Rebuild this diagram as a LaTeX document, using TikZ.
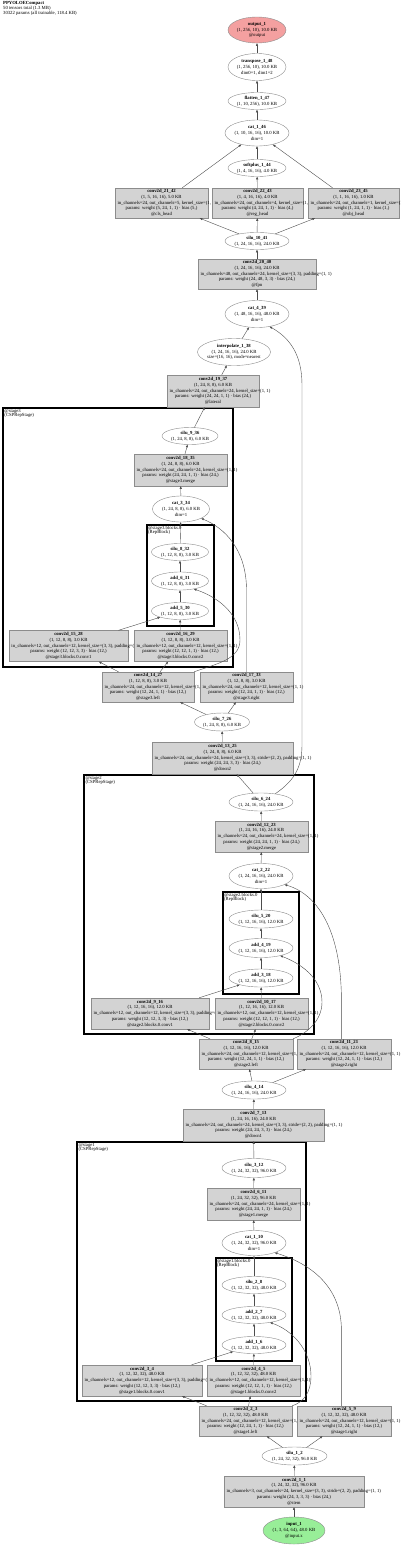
\documentclass[tikz,border=0pt]{standalone}
\usepackage{fontspec}
\setmainfont{Liberation Serif}
\usetikzlibrary{shapes.geometric,arrows.meta}
\definecolor{boxgray}{HTML}{D3D3D3}
\definecolor{outred}{HTML}{F4A0A0}
\definecolor{ingreen}{HTML}{98EE98}
\newcommand{\fs}{\fontsize{4.7}{5.8}\selectfont}
\newcommand{\fl}{\fontsize{4.7}{4.6}\selectfont}
\newcommand{\Z}[1]{\makebox[0pt]{#1}}
\newcommand{\BL}[2]{\hbox to #1pt{\hskip 2.5pt plus 1fil\relax #2\hskip 0pt plus 1fil minus 1fil\hskip 2.5pt\relax}}
\newcommand{\OP}[9]{\node[op, minimum height=#4pt] (#1) at #2 {\BL{#3}{\textbf{#5}}\\\BL{#3}{#6}\\\BL{#3}{#7}\\\BL{#3}{#8}\\\BL{#3}{#9}};}
\newcommand{\EL}[6]{\node[el, fill=#5, minimum width=#3pt, minimum height=#4pt] (#1) at #2 {#6};}
\tikzset{
  op/.style={draw=black!45, fill=boxgray, rectangle, inner xsep=0pt, inner ysep=1pt, align=center, font=\fs, line width=0.4pt},
  el/.style={draw=black!45, ellipse, inner sep=0pt, align=center, font=\fs, line width=0.4pt},
  edge/.style={draw=black!70, line width=0.4pt, -{Triangle[length=2.6pt,width=2.1pt]}},
  stagecl/.style={draw=black, line width=1.4pt, rectangle, inner sep=0pt},
  blockcl/.style={draw=black, line width=1.1pt, rectangle, inner sep=0pt},
  lab/.style={anchor=north west, inner sep=0pt, align=left, font=\fl}
}
\begin{document}
\begin{tikzpicture}[x=1pt, y=-1pt]
\useasboundingbox (0,0) rectangle (400,1547);
\node[lab] (hdr) at (3,1.5) {\textbf{PPYOLOECompact}\\50 tensors total (1.3 MB)\\30322 params (all trainable, 118.4 KB)};

% clusters
\node[stagecl, minimum width=230pt, minimum height=259pt] (stage3) at (118,537.5) {};
\node[lab] (stage3lab) at ([xshift=2pt,yshift=-1.5pt]stage3.north west) {@stage3\\(CSPRepStage)};
\node[blockcl, minimum width=67pt, minimum height=101pt] (blocks3) at (180.5,575.5) {};
\node[lab] (blocks3lab) at ([xshift=1.5pt,yshift=-1.2pt]blocks3.north west) {@stage3.blocks.0\\(RepBlock)};
\node[stagecl, minimum width=230pt, minimum height=259pt] (stage2) at (199,904.5) {};
\node[lab] (stage2lab) at ([xshift=2pt,yshift=-1.5pt]stage2.north west) {@stage2\\(CSPRepStage)};
\node[blockcl, minimum width=76pt, minimum height=102pt] (blocks2) at (261,943) {};
\node[lab] (blocks2lab) at ([xshift=1.5pt,yshift=-1.2pt]blocks2.north west) {@stage2.blocks.0\\(RepBlock)};
\node[stagecl, minimum width=229pt, minimum height=259pt] (stage1) at (191.5,1271.5) {};
\node[lab] (stage1lab) at ([xshift=2pt,yshift=-1.5pt]stage1.north west) {@stage1\\(CSPRepStage)};
\node[blockcl, minimum width=76pt, minimum height=103pt] (blocks1) at (254,1309.5) {};
\node[lab] (blocks1lab) at ([xshift=1.5pt,yshift=-1.2pt]blocks1.north west) {@stage1.blocks.0\\(RepBlock)};

% head
\EL{out1}{(257,30)}{58}{26}{outred}{\Z{\textbf{output\_1}}\\\Z{(1, 256, 10), 10.0 KB}\\\Z{@output}}
\EL{tr48}{(257,67)}{58}{27}{white}{\Z{\textbf{transpose\_1\_48}}\\\Z{(1, 256, 10), 10.0 KB}\\\Z{dim0=1, dim1=2}}
\EL{fl47}{(257,101)}{58}{17}{white}{\Z{\textbf{flatten\_1\_47}}\\\Z{(1, 10, 256), 10.0 KB}}
\EL{cat46}{(257,133)}{64}{26}{white}{\Z{\textbf{cat\_1\_46}}\\\Z{(1, 10, 16, 16), 10.0 KB}\\\Z{dim=1}}
\EL{sp44}{(257,168)}{58}{17}{white}{\Z{\textbf{softplus\_1\_44}}\\\Z{(1, 4, 16, 16), 4.0 KB}}
\OP{c2142}{(161.5,203)}{93}{30}{conv2d\_21\_42}{(1, 5, 16, 16), 5.0 KB}{in\_channels=24, out\_channels=5, kernel\_size=(1, 1)}{params: weight (5, 24, 1, 1) · bias (5,)}{@cls\_head}
\OP{c2243}{(257.5,203)}{91}{30}{conv2d\_22\_43}{(1, 4, 16, 16), 4.0 KB}{in\_channels=24, out\_channels=4, kernel\_size=(1, 1)}{params: weight (4, 24, 1, 1) · bias (4,)}{@reg\_head}
\OP{c2345}{(353.5,203)}{91}{30}{conv2d\_23\_45}{(1, 1, 16, 16), 1.0 KB}{in\_channels=24, out\_channels=1, kernel\_size=(1, 1)}{params: weight (1, 24, 1, 1) · bias (1,)}{@obj\_head}
\EL{si41}{(257,241)}{64}{17}{white}{\Z{\textbf{silu\_10\_41}}\\\Z{(1, 24, 16, 16), 24.0 KB}}
\OP{c2040}{(257,274)}{118}{30}{conv2d\_20\_40}{(1, 24, 16, 16), 24.0 KB}{in\_channels=48, out\_channels=24, kernel\_size=(3, 3), padding=(1, 1)}{params: weight (24, 48, 3, 3) · bias (24,)}{@fpn}
\EL{cat39}{(257,314)}{64}{27}{white}{\Z{\textbf{cat\_4\_39}}\\\Z{(1, 48, 16, 16), 48.0 KB}\\\Z{dim=1}}
\EL{in38}{(234,352)}{73}{27}{white}{\Z{\textbf{interpolate\_1\_38}}\\\Z{(1, 24, 16, 16), 24.0 KB}\\\Z{size=(16, 16), mode=nearest}}
\OP{c1937}{(213,391)}{92}{32}{conv2d\_19\_37}{(1, 24, 8, 8), 6.0 KB}{in\_channels=24, out\_channels=24, kernel\_size=(1, 1)}{params: weight (24, 24, 1, 1) · bias (24,)}{@lateral}

% stage3
\EL{si36}{(190,436)}{56}{17}{white}{\Z{\textbf{silu\_9\_36}}\\\Z{(1, 24, 8, 8), 6.0 KB}}
\OP{c1835}{(180.5,470)}{93}{32}{conv2d\_18\_35}{(1, 24, 8, 8), 6.0 KB}{in\_channels=24, out\_channels=24, kernel\_size=(1, 1)}{params: weight (24, 24, 1, 1) · bias (24,)}{@stage3.merge}
\EL{cat34}{(181,509)}{57}{26}{white}{\Z{\textbf{cat\_3\_34}}\\\Z{(1, 24, 8, 8), 6.0 KB}\\\Z{dim=1}}
\EL{si32}{(180,552)}{57}{17}{white}{\Z{\textbf{silu\_8\_32}}\\\Z{(1, 12, 8, 8), 3.0 KB}}
\EL{ad31}{(180,581)}{57}{18}{white}{\Z{\textbf{add\_6\_31}}\\\Z{(1, 12, 8, 8), 3.0 KB}}
\EL{ad30}{(180,611)}{57}{17}{white}{\Z{\textbf{add\_5\_30}}\\\Z{(1, 12, 8, 8), 3.0 KB}}
\OP{c1528}{(68.5,646)}{119}{31}{conv2d\_15\_28}{(1, 12, 8, 8), 3.0 KB}{in\_channels=12, out\_channels=12, kernel\_size=(3, 3), padding=(1, 1)}{params: weight (12, 12, 3, 3) · bias (12,)}{@stage3.blocks.0.conv1}
\OP{c1629}{(180.5,646)}{93}{31}{conv2d\_16\_29}{(1, 12, 8, 8), 3.0 KB}{in\_channels=12, out\_channels=12, kernel\_size=(1, 1)}{params: weight (12, 12, 1, 1) · bias (12,)}{@stage3.blocks.0.conv2}
\OP{c1427}{(148,687)}{92}{30}{conv2d\_14\_27}{(1, 12, 8, 8), 3.0 KB}{in\_channels=24, out\_channels=12, kernel\_size=(1, 1)}{params: weight (12, 24, 1, 1) · bias (12,)}{@stage3.left}
\OP{c1733}{(246.5,687)}{93}{30}{conv2d\_17\_33}{(1, 12, 8, 8), 3.0 KB}{in\_channels=24, out\_channels=12, kernel\_size=(1, 1)}{params: weight (12, 24, 1, 1) · bias (12,)}{@stage3.right}
\EL{si26}{(222,722)}{55}{18}{white}{\Z{\textbf{silu\_7\_26}}\\\Z{(1, 24, 8, 8), 6.0 KB}}
\OP{c1325}{(222.5,758)}{141}{32}{conv2d\_13\_25}{(1, 24, 8, 8), 6.0 KB}{in\_channels=24, out\_channels=24, kernel\_size=(3, 3), stride=(2, 2), padding=(1, 1)}{params: weight (24, 24, 3, 3) · bias (24,)}{@down2}

% stage2
\EL{si24}{(261,802)}{64}{18}{white}{\Z{\textbf{silu\_6\_24}}\\\Z{(1, 24, 16, 16), 24.0 KB}}
\OP{c1223}{(261.5,836.5)}{93}{31}{conv2d\_12\_23}{(1, 24, 16, 16), 24.0 KB}{in\_channels=24, out\_channels=24, kernel\_size=(1, 1)}{params: weight (24, 24, 1, 1) · bias (24,)}{@stage2.merge}
\EL{cat22}{(261,876)}{64}{25}{white}{\Z{\textbf{cat\_2\_22}}\\\Z{(1, 24, 16, 16), 24.0 KB}\\\Z{dim=1}}
\EL{si20}{(261,919)}{64}{18}{white}{\Z{\textbf{silu\_5\_20}}\\\Z{(1, 12, 16, 16), 12.0 KB}}
\EL{ad19}{(261,948)}{64}{19}{white}{\Z{\textbf{add\_4\_19}}\\\Z{(1, 12, 16, 16), 12.0 KB}}
\EL{ad18}{(261,978)}{64}{18}{white}{\Z{\textbf{add\_3\_18}}\\\Z{(1, 12, 16, 16), 12.0 KB}}
\OP{c916}{(150,1013.5)}{118}{31}{conv2d\_9\_16}{(1, 12, 16, 16), 12.0 KB}{in\_channels=12, out\_channels=12, kernel\_size=(3, 3), padding=(1, 1)}{params: weight (12, 12, 3, 3) · bias (12,)}{@stage2.blocks.0.conv1}
\OP{c1017}{(261.5,1013.5)}{93}{31}{conv2d\_10\_17}{(1, 12, 16, 16), 12.0 KB}{in\_channels=12, out\_channels=12, kernel\_size=(1, 1)}{params: weight (12, 12, 1, 1) · bias (12,)}{@stage2.blocks.0.conv2}
\OP{c815}{(246,1054)}{94}{30}{conv2d\_8\_15}{(1, 12, 16, 16), 12.0 KB}{in\_channels=24, out\_channels=12, kernel\_size=(1, 1)}{params: weight (12, 24, 1, 1) · bias (12,)}{@stage2.left}
\OP{c1121}{(344,1054)}{94}{30}{conv2d\_11\_21}{(1, 12, 16, 16), 12.0 KB}{in\_channels=24, out\_channels=12, kernel\_size=(1, 1)}{params: weight (12, 24, 1, 1) · bias (12,)}{@stage2.right}
\EL{si14}{(254,1090)}{64}{18}{white}{\Z{\textbf{silu\_4\_14}}\\\Z{(1, 24, 16, 16), 24.0 KB}}
\OP{c713}{(253.5,1125)}{141}{32}{conv2d\_7\_13}{(1, 24, 16, 16), 24.0 KB}{in\_channels=24, out\_channels=24, kernel\_size=(3, 3), stride=(2, 2), padding=(1, 1)}{params: weight (24, 24, 3, 3) · bias (24,)}{@down1}

% stage1
\EL{si12}{(254,1168)}{64}{19}{white}{\Z{\textbf{silu\_3\_12}}\\\Z{(1, 24, 32, 32), 96.0 KB}}
\OP{c611}{(253.5,1204)}{93}{32}{conv2d\_6\_11}{(1, 24, 32, 32), 96.0 KB}{in\_channels=24, out\_channels=24, kernel\_size=(1, 1)}{params: weight (24, 24, 1, 1) · bias (24,)}{@stage1.merge}
\EL{cat10}{(254,1243)}{64}{25}{white}{\Z{\textbf{cat\_1\_10}}\\\Z{(1, 24, 32, 32), 96.0 KB}\\\Z{dim=1}}
\EL{si8}{(254,1285)}{64}{17}{white}{\Z{\textbf{silu\_2\_8}}\\\Z{(1, 12, 32, 32), 48.0 KB}}
\EL{ad7}{(254,1315)}{64}{17}{white}{\Z{\textbf{add\_2\_7}}\\\Z{(1, 12, 32, 32), 48.0 KB}}
\EL{ad6}{(254,1345)}{64}{17}{white}{\Z{\textbf{add\_1\_6}}\\\Z{(1, 12, 32, 32), 48.0 KB}}
\OP{c34}{(142,1380.5)}{120}{31}{conv2d\_3\_4}{(1, 12, 32, 32), 48.0 KB}{in\_channels=12, out\_channels=12, kernel\_size=(3, 3), padding=(1, 1)}{params: weight (12, 12, 3, 3) · bias (12,)}{@stage1.blocks.0.conv1}
\OP{c45}{(253.5,1380.5)}{93}{31}{conv2d\_4\_5}{(1, 12, 32, 32), 48.0 KB}{in\_channels=12, out\_channels=12, kernel\_size=(1, 1)}{params: weight (12, 12, 1, 1) · bias (12,)}{@stage1.blocks.0.conv2}
\OP{c23}{(245.5,1421)}{93}{30}{conv2d\_2\_3}{(1, 12, 32, 32), 48.0 KB}{in\_channels=24, out\_channels=12, kernel\_size=(1, 1)}{params: weight (12, 24, 1, 1) · bias (12,)}{@stage1.left}
\OP{c59}{(344,1421)}{94}{30}{conv2d\_5\_9}{(1, 12, 32, 32), 48.0 KB}{in\_channels=24, out\_channels=12, kernel\_size=(1, 1)}{params: weight (12, 24, 1, 1) · bias (12,)}{@stage1.right}
\EL{si2}{(294.5,1456)}{65}{18}{white}{\Z{\textbf{silu\_1\_2}}\\\Z{(1, 24, 32, 32), 96.0 KB}}
\OP{c11}{(294,1491.5)}{140}{31}{conv2d\_1\_1}{(1, 24, 32, 32), 96.0 KB}{in\_channels=3, out\_channels=24, kernel\_size=(3, 3), stride=(2, 2), padding=(1, 1)}{params: weight (24, 3, 3, 3) · bias (24,)}{@stem}
\EL{in1}{(294,1530.5)}{62}{27}{ingreen}{\Z{\textbf{input\_1}}\\\Z{(1, 3, 64, 64), 48.0 KB}\\\Z{@input.x}}

% straight edges
\draw[edge] (in1) -- (c11);
\draw[edge] (c11) -- (si2);
\draw[edge] (si2) -- (c23);
\draw[edge] (si2) -- (c59);
\draw[edge] (c23) -- (c34);
\draw[edge] (c23) -- (c45);
\draw[edge] (c34) -- (ad6);
\draw[edge] (c45) -- (ad6);
\draw[edge] (ad6) -- (ad7);
\draw[edge] (ad7) -- (si8);
\draw[edge] (si8) -- (cat10);
\draw[edge] (cat10) -- (c611);
\draw[edge] (c611) -- (si12);
\draw[edge] (si12) -- (c713);
\draw[edge] (c713) -- (si14);
\draw[edge] (si14) -- (c815);
\draw[edge] (si14) -- (c1121);
\draw[edge] (c815) -- (c916);
\draw[edge] (c815) -- (c1017);
\draw[edge] (c916) -- (ad18);
\draw[edge] (c1017) -- (ad18);
\draw[edge] (ad18) -- (ad19);
\draw[edge] (ad19) -- (si20);
\draw[edge] (si20) -- (cat22);
\draw[edge] (cat22) -- (c1223);
\draw[edge] (c1223) -- (si24);
\draw[edge] (si24) -- (c1325);
\draw[edge] (c1325) -- (si26);
\draw[edge] (si26) -- (c1427);
\draw[edge] (si26) -- (c1733);
\draw[edge] (c1427) -- (c1528);
\draw[edge] (c1427) -- (c1629);
\draw[edge] (c1528) -- (ad30);
\draw[edge] (c1629) -- (ad30);
\draw[edge] (ad30) -- (ad31);
\draw[edge] (ad31) -- (si32);
\draw[edge] (si32) -- (cat34);
\draw[edge] (cat34) -- (c1835);
\draw[edge] (c1835) -- (si36);
\draw[edge] (si36) -- (c1937);
\draw[edge] (c1937) -- (in38);
\draw[edge] (in38) -- (cat39);
\draw[edge] (cat39) -- (c2040);
\draw[edge] (c2040) -- (si41);
\draw[edge] (si41) -- (c2142);
\draw[edge] (si41) -- (c2243);
\draw[edge] (si41) -- (c2345);
\draw[edge] (c2142) -- (cat46);
\draw[edge] (c2243) -- (sp44);
\draw[edge] (sp44) -- (cat46);
\draw[edge] (c2345) -- (cat46);
\draw[edge] (cat46) -- (fl47);
\draw[edge] (fl47) -- (tr48);
\draw[edge] (tr48) -- (out1);

% curved edges
\draw[edge] (si24.30) .. controls (292,782) and (302,770) .. (302,745) -- (302,385) .. controls (302,355) and (290,338) .. (cat39.-45);
\draw[edge] (c1427.north east) .. controls (215,664) and (240,660) .. (240,640) .. controls (240,612) and (215,596) .. (ad31.-30);
\draw[edge] (c1733.north) -- (246.5,590) .. controls (246.5,550) and (225,528) .. (cat34.-25);
\draw[edge] (c815.north east) .. controls (305,1034) and (322,1022) .. (322,1002) .. controls (322,978) and (300,963) .. (ad19.-22);
\draw[edge] (c1121.100) -- (341.4,1000) .. controls (341.4,935) and (320,895) .. (cat22.-20);
\draw[edge] (c23.north east) .. controls (304,1402) and (311,1392) .. (311,1376) .. controls (311,1350) and (292,1330) .. (ad7.-25);
\draw[edge] (c59.100) -- (341.4,1330) .. controls (341.4,1290) and (315,1265) .. (cat10.-25);
\end{tikzpicture}
\end{document}
